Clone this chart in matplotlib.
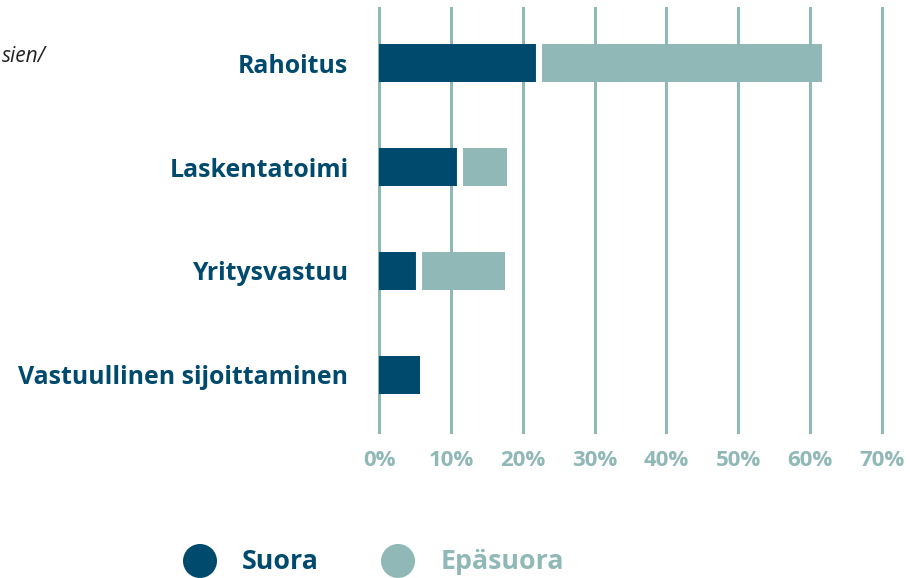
import matplotlib.pyplot as plt
import numpy as np

plt.rcParams["font.family"] = ["Open Sans", "DejaVu Sans"]

categories = ["Rahoitus", "Laskentatoimi", "Yritysvastuu", "Vastuullinen sijoittaminen"]
suora = [22.3, 11.3, 5.6, 5.7]
epasuora = [39.35, 6.5, 11.9, 0.0]
ticks = [0, 10, 20, 30, 40, 50, 60, 70]
series_names = ["Suora", "Epäsuora"]

dark = "#004a6e"
light = "#8fb8b7"

fig = plt.figure(figsize=(9.1, 5.78), dpi=100)
ax = fig.add_axes([379 / 910, 1 - 432 / 578, 503 / 910, 424 / 578])

y = np.arange(len(categories))
h = 0.37
ax.barh(y, suora, height=h, color=dark, zorder=3)
ax.barh(y, epasuora, height=h, left=suora, color=light, zorder=3)
# white separator between the two segments
for yi, s, e in zip(y, suora, epasuora):
    if e > 0:
        ax.vlines(s, yi - h / 2, yi + h / 2, color="white", lw=4.4, zorder=4)

ax.set_xlim(0, 70)
ax.set_ylim(len(categories) - 0.45, -0.53)
ax.set_xticks(ticks)
ax.set_xticklabels([f"{t}%" for t in ticks], color=light, fontsize=16, fontweight="bold")
ax.set_yticks(y)
ax.set_yticklabels(categories, color=dark, fontsize=17.9, fontweight="bold")
ax.tick_params(axis="both", length=0)
ax.tick_params(axis="y", pad=22)
ax.tick_params(axis="x", pad=13)
ax.grid(axis="x", color=light, lw=2.2, zorder=0, clip_on=False)
for sp in ax.spines.values():
    sp.set_visible(False)

fig.text(46 / 910, 1 - 56 / 578, "sien/", ha="right", va="center",
         fontsize=15, style="italic", color="#222222")

lg = fig.add_axes([0, 0, 1, 1], facecolor="none")
lg.set_xlim(0, 910)
lg.set_ylim(578, 0)
lg.axis("off")
for (mx, tx), name, c in zip([(200, 242), (398, 441)], series_names, [dark, light]):
    lg.scatter([mx], [561], s=600, color=c, edgecolors="none")
    lg.text(tx, 562, name, ha="left", va="center", fontsize=19.3, fontweight="bold", color=c)

fig.savefig("out.png", dpi=100)
